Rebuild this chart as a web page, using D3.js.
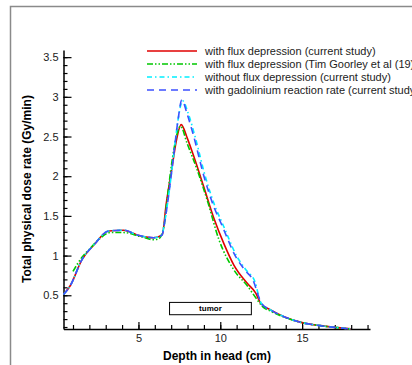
<!DOCTYPE html>
<html>
<head>
<meta charset="utf-8">
<script src="https://cdn.jsdelivr.net/npm/d3@7/dist/d3.min.js"></script>
<style>
    body { margin: 0; background: #fff; }
    svg { display: block; font-family: "Liberation Sans", Arial, sans-serif; }
</style>
</head>
<body>
<div id="chart"></div>
<script>
// Dose rate vs depth in head - 4 series

var seriesNames = [
    "with flux depression (current study)",
    "with flux depression (Tim Goorley et al (19)",
    "without flux depression (current study)",
    "with gadolinium reaction rate (current study)"
];

var fluxDepth = [0.42, 0.83, 1.55, 2.26, 3.18, 4.1, 4.92, 5.94, 6.45, 6.69, 7.06, 7.3, 7.61, 8.0, 8.38, 9.0, 9.61, 10.22, 10.83, 11.65, 12.16, 12.47, 13.08, 13.9, 15.0, 16.1, 17.17, 17.98];
var fluxDose = [0.51, 0.62, 0.95, 1.13, 1.31, 1.32, 1.26, 1.225, 1.26, 1.64, 2.12, 2.43, 2.65, 2.47, 2.25, 1.86, 1.47, 1.15, 0.88, 0.65, 0.53, 0.40, 0.315, 0.23, 0.155, 0.117, 0.092, 0.076];

var goorleyDepth = [1.0, 1.55, 2.0, 2.67, 3.28, 4.1, 5.12, 5.94, 6.24, 6.55, 6.75, 7.16, 7.57, 7.98, 8.59, 9.2, 9.92, 10.83, 11.65, 12.27, 12.57, 13.08, 13.9, 15.0, 16.1, 17.17, 17.9];
var goorleyDose = [0.80, 0.98, 1.08, 1.22, 1.29, 1.29, 1.24, 1.20, 1.21, 1.36, 1.70, 2.33, 2.63, 2.41, 2.08, 1.70, 1.20, 0.82, 0.62, 0.44, 0.36, 0.30, 0.225, 0.155, 0.117, 0.092, 0.076];

var noFluxDepth = [0.42, 0.83, 1.55, 2.26, 3.18, 4.1, 4.92, 5.94, 6.45, 6.55, 6.86, 7.16, 7.42, 7.7, 8.06, 8.46, 9.08, 9.68, 10.1, 10.51, 10.91, 11.53, 12.14, 12.3, 12.5, 13.08, 13.9, 15.0, 16.1, 17.17, 17.95];
var noFluxDose = [0.51, 0.62, 0.95, 1.13, 1.31, 1.32, 1.26, 1.225, 1.26, 1.36, 1.78, 2.28, 2.71, 2.95, 2.78, 2.50, 2.0, 1.62, 1.42, 1.22, 1.03, 0.83, 0.66, 0.53, 0.40, 0.315, 0.23, 0.155, 0.117, 0.092, 0.076];

var gadoDepth = [0.42, 0.83, 1.55, 2.26, 3.18, 4.1, 4.92, 5.94, 6.45, 6.55, 6.86, 7.16, 7.42, 7.65, 7.98, 8.38, 9.0, 9.6, 10.02, 10.43, 10.83, 11.45, 12.06, 12.27, 12.5, 13.08, 13.9, 15.0, 16.1, 17.17, 17.95];
var gadoDose = [0.51, 0.62, 0.95, 1.13, 1.31, 1.32, 1.26, 1.225, 1.26, 1.36, 1.78, 2.28, 2.71, 2.96, 2.78, 2.50, 2.0, 1.62, 1.42, 1.22, 1.03, 0.83, 0.66, 0.53, 0.40, 0.315, 0.23, 0.155, 0.117, 0.092, 0.076];

var xMajorTicks = [5, 10, 15];
var yMajorTicks = [0.5, 1, 1.5, 2, 2.5, 3, 3.5];
var tumorDepth = [6.9, 11.9];
var tumorDose = [0.255, 0.41];

(function(d3) {

    var width = 412, height = 365;

    var svg = d3.select("#chart").append("svg")
        .attr("width", width)
        .attr("height", height);

    // outer frame (gray, only top and left visible)
    svg.append("path")
        .attr("d", "M10.5,365V6.5H412")
        .attr("fill", "none")
        .attr("stroke", "#8a8a8a")
        .attr("stroke-width", 1.5);

    var x = d3.scaleLinear().domain([0.42, 19.15]).range([63.5, 370]);
    var y = d3.scaleLinear().domain([0.075, 3.59]).range([329, 50]);

    // minor ticks first
    svg.append("g")
        .attr("transform", "translate(0," + y.range()[0] + ")")
        .call(d3.axisBottom(x).tickValues(d3.range(1, 20)).tickSize(-4).tickFormat(""))
        .call(function(g) { g.select(".domain").remove(); });

    svg.append("g")
        .attr("transform", "translate(" + x.range()[0] + ",0)")
        .call(d3.axisLeft(y).tickValues(d3.range(1, 36).map(function(i) { return i / 10; })).tickSize(-4).tickFormat(""))
        .call(function(g) { g.select(".domain").remove(); });

    var xAxis = svg.append("g")
        .attr("transform", "translate(0," + y.range()[0] + ")")
        .call(d3.axisBottom(x).tickValues(xMajorTicks).tickSize(-7).tickSizeOuter(0).tickPadding(5));

    var yAxis = svg.append("g")
        .attr("transform", "translate(" + x.range()[0] + ",0)")
        .call(d3.axisLeft(y).tickValues(yMajorTicks).tickSize(-8).tickSizeOuter(0).tickPadding(5)
            .tickFormat(function(d) { return d; }));

    [xAxis, yAxis].forEach(function(g) {
        g.selectAll("text").attr("font-size", 11).attr("fill", "#222")
            .attr("font-family", "Liberation Sans, Arial, sans-serif");
        g.select(".domain").attr("stroke-width", 1.5);
    });
    svg.selectAll(".tick line").attr("stroke", "#000").attr("stroke-width", 1.2);

    // axis titles
    svg.append("text")
        .attr("x", 217).attr("y", 360)
        .attr("text-anchor", "middle")
        .attr("font-size", 12).attr("font-weight", "bold")
        .text("Depth in head (cm)");

    svg.append("text")
        .attr("transform", "translate(31,189) rotate(-90)")
        .attr("text-anchor", "middle")
        .attr("font-size", 12).attr("font-weight", "bold")
        .text("Total physical dose rate (Gy/min)");

    // tumor box
    svg.append("rect")
        .attr("x", x(tumorDepth[0])).attr("y", y(tumorDose[1]))
        .attr("width", x(tumorDepth[1]) - x(tumorDepth[0]))
        .attr("height", y(tumorDose[0]) - y(tumorDose[1]))
        .attr("fill", "#fff").attr("stroke", "#000").attr("stroke-width", 1);

    svg.append("text")
        .attr("x", x((tumorDepth[0] + tumorDepth[1]) / 2))
        .attr("y", y((tumorDose[0] + tumorDose[1]) / 2))
        .attr("dy", "0.35em")
        .attr("text-anchor", "middle")
        .attr("font-size", 8).attr("font-weight", "bold")
        .text("tumor");

    var series = [
        { xs: fluxDepth, ys: fluxDose, color: "#e00000", dash: null },
        { xs: goorleyDepth, ys: goorleyDose, color: "#00c800", dash: "6,2,1.5,2,1.5,2" },
        { xs: noFluxDepth, ys: noFluxDose, color: "#00f0ff", dash: "5,3,1.5,3" },
        { xs: gadoDepth, ys: gadoDose, color: "#3c50ff", dash: "7,5" }
    ];

    var line = d3.line()
        .x(function(d) { return x(d[0]); })
        .y(function(d) { return y(d[1]); })
        .curve(d3.curveMonotoneX);

    series.forEach(function(s, i) {
        var pts = s.xs.map(function(v, j) { return [v, s.ys[j]]; });
        svg.append("path")
            .datum(pts)
            .attr("d", line)
            .attr("fill", "none")
            .attr("stroke", s.color)
            .attr("stroke-width", 1.6)
            .attr("stroke-dasharray", s.dash);

        // legend row
        var ly = 51 + i * 13;
        svg.append("line")
            .attr("x1", 147).attr("x2", 197)
            .attr("y1", ly).attr("y2", ly)
            .attr("stroke", s.color)
            .attr("stroke-width", 1.6)
            .attr("stroke-dasharray", s.dash);
        svg.append("text")
            .attr("x", 205).attr("y", ly)
            .attr("dy", "0.35em")
            .attr("font-size", 11).attr("fill", "#222")
            .text(seriesNames[i]);
    });

})(d3);
</script>
</body>
</html>
